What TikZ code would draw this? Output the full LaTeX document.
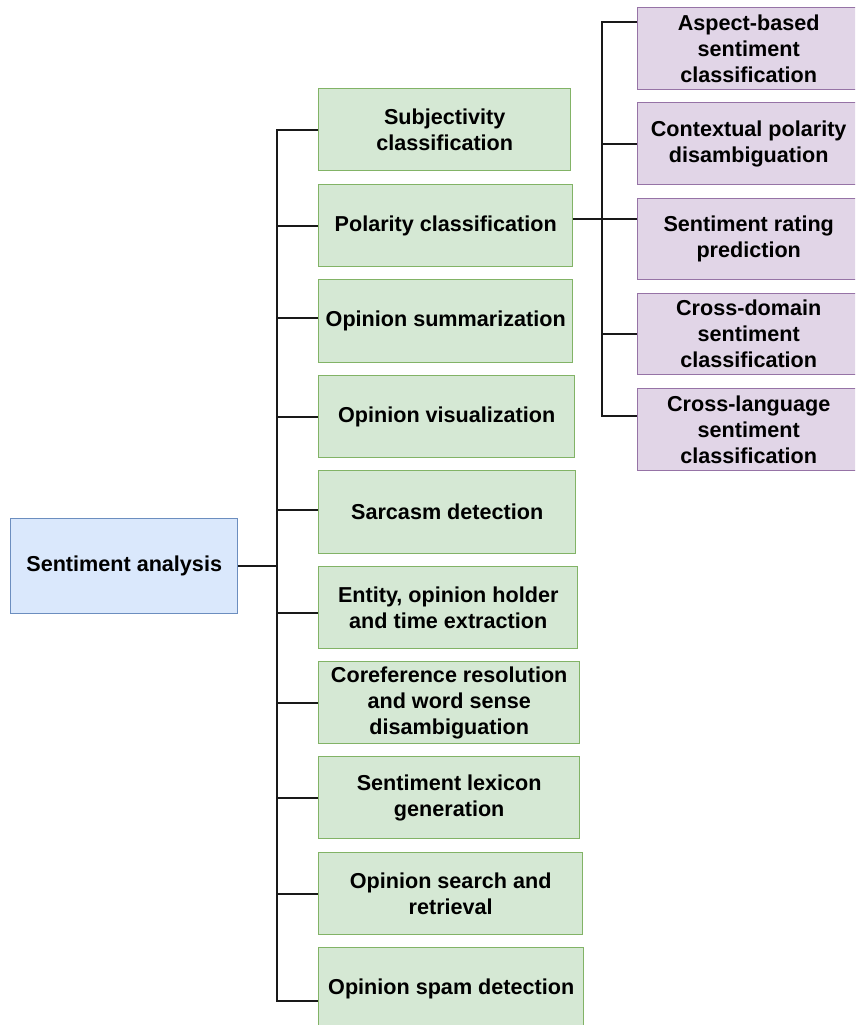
\documentclass[tikz,border=0pt]{standalone}
\usepackage{fontspec}
\setmainfont{Liberation Sans}
\usetikzlibrary{calc}
\definecolor{gfill}{HTML}{D5E8D4}
\definecolor{gline}{HTML}{82B366}
\definecolor{pfill}{HTML}{E1D5E7}
\definecolor{pline}{HTML}{9673A6}
\definecolor{bfill}{HTML}{DAE8FC}
\definecolor{bline}{HTML}{6C8EBF}
\tikzset{
  basebox/.style={draw, line width=1.4pt, rectangle, inner sep=0pt, align=center,
    anchor=north west, font=\fontsize{21.6}{26}\selectfont\bfseries},
  rootbox/.style={basebox, fill=bfill, draw=bline},
  taskbox/.style={basebox, fill=gfill, draw=gline},
  subbox/.style={basebox, fill=pfill, draw=pline},
  conn/.style={draw=black!90, line width=2.2pt},
}
\begin{document}
\begin{tikzpicture}[x=1pt,y=-1pt]
\useasboundingbox (0,0) rectangle (855,1025);
\clip (0,0) rectangle (855,1025);

% root
\node[rootbox, minimum width=227, minimum height=95] (root) at (10,518) {Sentiment analysis};

% tasks
\node[taskbox, minimum width=252, minimum height=82] (g1) at (318,88) {Subjectivity\\classification};
\node[taskbox, minimum width=254, minimum height=82] (g2) at (318,184) {Polarity classification};
\node[taskbox, minimum width=254, minimum height=83] (g3) at (318,279) {Opinion summarization};
\node[taskbox, minimum width=256, minimum height=82] (g4) at (318,375) {Opinion visualization};
\node[taskbox, minimum width=257, minimum height=83] (g5) at (318,470) {Sarcasm detection};
\node[taskbox, minimum width=259, minimum height=82] (g6) at (318,566) {Entity, opinion holder\\and time extraction};
\node[taskbox, minimum width=261, minimum height=82] (g7) at (318,661) {Coreference resolution\\and word sense\\disambiguation};
\node[taskbox, minimum width=261, minimum height=82] (g8) at (318,756) {Sentiment lexicon\\generation};
\node[taskbox, minimum width=264, minimum height=82] (g9) at (318,852) {Opinion search and\\retrieval};
\node[taskbox, minimum width=265, minimum height=82] (g10) at (318,947) {Opinion spam detection};

% polarity sub-tasks
\node[subbox, minimum width=222, minimum height=82] (pA) at (637,7) {Aspect-based\\sentiment\\classification};
\node[subbox, minimum width=222, minimum height=82] (pB) at (637,102) {Contextual polarity\\disambiguation};
\node[subbox, minimum width=222, minimum height=81] (pC) at (637,198) {Sentiment rating\\prediction};
\node[subbox, minimum width=222, minimum height=81] (pD) at (637,293) {Cross-domain\\sentiment\\classification};
\node[subbox, minimum width=222, minimum height=82] (pE) at (637,388) {Cross-language\\sentiment\\classification};

% main trunk
\coordinate (hub) at (277,565);
\coordinate (g10in) at ([yshift=-12pt]g10.west);
\draw[conn] (root.east) -- (root.east -| hub);
\draw[conn] (g1.west) -- (g1.west -| hub) -- (g10in -| hub) -- (g10in);
\draw[conn] (g2.west -| hub) -- (g2.west);
\draw[conn] ([yshift=3.5pt]g3.west -| hub) -- ([yshift=3.5pt]g3.west);
\draw[conn] (g4.west -| hub) -- (g4.west);
\draw[conn] ([yshift=2.5pt]g5.west -| hub) -- ([yshift=2.5pt]g5.west);
\draw[conn] ([yshift=-5pt]g6.west -| hub) -- ([yshift=-5pt]g6.west);
\draw[conn] (g7.west -| hub) -- (g7.west);
\draw[conn] (g8.west -| hub) -- (g8.west);
\draw[conn] (g9.west -| hub) -- (g9.west);

% polarity trunk
\coordinate (phub) at (602,218);
\coordinate (pAin) at ([yshift=27pt]pA.west);
\coordinate (pEin) at ([yshift=14pt]pE.west);
\draw[conn] ([yshift=7pt]g2.east) -- ([yshift=20.5pt]pC.west);
\draw[conn] (pAin) -- (pAin -| phub) -- (pEin -| phub) -- (pEin);
\draw[conn] (pB.west -| phub) -- (pB.west);
\draw[conn] (pD.west -| phub) -- (pD.west);
\end{tikzpicture}
\end{document}
